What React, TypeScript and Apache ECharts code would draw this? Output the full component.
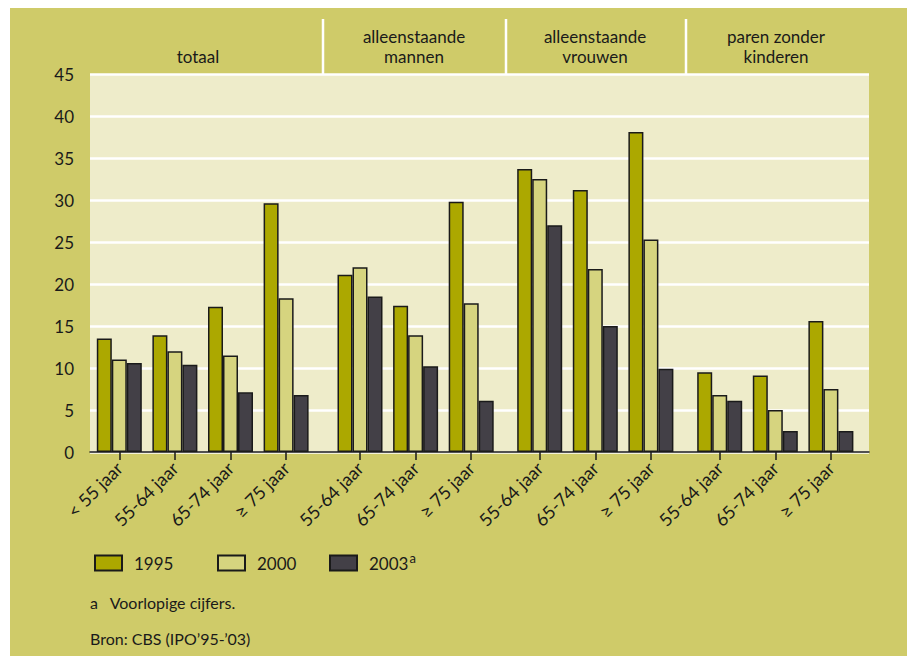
import React, { useEffect, useRef } from "react";
import * as echarts from "echarts";

// ---- data ----
const groupTitles = ["totaal", "alleenstaande\nmannen", "alleenstaande\nvrouwen", "paren zonder\nkinderen"];
const categoriesTotaal = ["< 55 jaar", "55-64 jaar", "65-74 jaar", "≥ 75 jaar"];
const categoriesOther = ["55-64 jaar", "65-74 jaar", "≥ 75 jaar"];
const years = ["1995", "2000", "2003"];

const totaal1995 = [13.5, 13.9, 17.3, 29.6];
const totaal2000 = [11.0, 12.0, 11.5, 18.3];
const totaal2003 = [10.6, 10.4, 7.1, 6.8];
const mannen1995 = [21.1, 17.4, 29.8];
const mannen2000 = [22.0, 13.9, 17.7];
const mannen2003 = [18.5, 10.2, 6.1];
const vrouwen1995 = [33.7, 31.2, 38.1];
const vrouwen2000 = [32.5, 21.8, 25.3];
const vrouwen2003 = [27.0, 15.0, 9.9];
const paren1995 = [9.5, 9.1, 15.6];
const paren2000 = [6.8, 5.0, 7.5];
const paren2003 = [6.1, 2.5, 2.5];

const yMin = 0;
const yMax = 45;
const yInterval = 5;

const footnote = "a   Voorlopige cijfers.";
const source = "Bron: CBS (IPO\u201995-\u201903)";

// ---- styles / layout ----
const FONT = "Lato";
const TEXT = "#1a1a1a";
const PANEL = "#cfcb69";
const PLOT_BG = "#eeecca";
const COLORS = ["#aca800", "#d6d47f", "#434047"];
const W = 907;
const H = 656;
const PLOT_TOP = 74;
const PLOT_BOTTOM = 452;
const PLOT_LEFT = 90;
const PLOT_RIGHT = 869;
const subGrids = [
  { left: 91.5, width: 222.4 },
  { left: 332.2, width: 166.8 },
  { left: 511.9, width: 166.8 },
  { left: 691.9, width: 166.8 },
];
const headerCenters = [198, 414, 595, 776];
const separators = [323, 506, 686];

export default function App() {
  const ref = useRef<HTMLDivElement>(null);

  useEffect(() => {
    if (!ref.current) return;
    const chart = echarts.init(ref.current, null, { renderer: "svg" });

    const groupCats = [categoriesTotaal, categoriesOther, categoriesOther, categoriesOther];
    const groupData = [
      [totaal1995, totaal2000, totaal2003],
      [mannen1995, mannen2000, mannen2003],
      [vrouwen1995, vrouwen2000, vrouwen2003],
      [paren1995, paren2000, paren2003],
    ];

    const grids: any[] = [
      {
        left: PLOT_LEFT,
        top: PLOT_TOP,
        width: PLOT_RIGHT - PLOT_LEFT,
        height: PLOT_BOTTOM - PLOT_TOP,
        show: true,
        backgroundColor: PLOT_BG,
        borderWidth: 0,
      },
    ];
    const xAxes: any[] = [
      {
        type: "category",
        gridIndex: 0,
        data: [""],
        axisLine: { show: true, lineStyle: { color: TEXT, width: 1.5 } },
        axisTick: { show: false },
        axisLabel: { show: false },
        splitLine: { show: false },
      },
    ];
    const yAxes: any[] = [
      {
        type: "value",
        gridIndex: 0,
        min: yMin,
        max: yMax,
        interval: yInterval,
        axisLine: { show: false },
        axisTick: { show: false },
        axisLabel: { color: TEXT, fontFamily: FONT, fontSize: 17, margin: 16 },
        splitLine: { show: true, lineStyle: { color: "#ffffff", width: 2.5 } },
      },
    ];
    const series: any[] = [];

    subGrids.forEach((g, i) => {
      const idx = i + 1;
      grids.push({ left: g.left, width: g.width, top: PLOT_TOP, height: PLOT_BOTTOM - PLOT_TOP });
      xAxes.push({
        type: "category",
        gridIndex: idx,
        data: groupCats[i],
        axisLine: { show: false },
        axisTick: { show: true, alignWithLabel: true, length: 8, lineStyle: { color: TEXT, width: 1.5 } },
        axisLabel: {
          rotate: 45,
          interval: 0,
          color: TEXT,
          fontFamily: FONT,
          fontSize: 18,
          margin: 13,
        },
        splitLine: { show: false },
      });
      yAxes.push({ type: "value", gridIndex: idx, min: yMin, max: yMax, interval: yInterval, show: false });
      years.forEach((y, k) => {
        series.push({
          type: "bar",
          name: y,
          xAxisIndex: idx,
          yAxisIndex: idx,
          data: groupData[i][k],
          barWidth: 15,
          barGap: "0%",
          itemStyle: { color: COLORS[k], borderColor: TEXT, borderWidth: 1.5 },
          emphasis: { disabled: true },
        });
      });
    });

    const legendPos = [89, 212, 324];
    const legends = years.map((y, k) => ({
      left: legendPos[k],
      top: 546,
      data: [y],
      icon: "rect",
      itemWidth: 27,
      itemHeight: 15,
      selectedMode: false,
      formatter: (name: string) => (name === "2003" ? "{n|2003}{sup|a}" : "{n|" + name + "}"),
      textStyle: {
        color: TEXT,
        fontFamily: FONT,
        fontSize: 17,
        lineHeight: 24,
        padding: [0, 0, 0, 7],
        rich: {
          n: { fontFamily: FONT, fontSize: 17, color: TEXT, lineHeight: 24 },
          sup: { fontFamily: FONT, fontSize: 13, color: TEXT, lineHeight: 13, verticalAlign: "top", padding: [0, 0, 0, 1] },
        },
      },
    }));

    const graphic: any[] = [
      { type: "rect", z: -100, shape: { x: 10, y: 8, width: W - 10, height: H - 8 }, style: { fill: PANEL } },
    ];
    separators.forEach((x) => {
      graphic.push({
        type: "line",
        z: 5,
        shape: { x1: x, y1: 19, x2: x, y2: PLOT_TOP },
        style: { stroke: "#ffffff", lineWidth: 2.5 },
      });
    });
    groupTitles.forEach((t, i) => {
      graphic.push({
        type: "text",
        z: 5,
        x: headerCenters[i],
        y: 66,
        style: {
          text: t,
          fill: TEXT,
          font: `17px ${FONT}`,
          textAlign: "center",
          textVerticalAlign: "bottom",
          lineHeight: 20,
        },
      });
    });
    graphic.push({
      type: "text",
      z: 5,
      x: 90,
      y: 602,
      style: { text: footnote, fill: TEXT, font: `16px ${FONT}`, textVerticalAlign: "middle" },
    });
    graphic.push({
      type: "text",
      z: 5,
      x: 90,
      y: 638,
      style: { text: source, fill: TEXT, font: `16px ${FONT}`, textVerticalAlign: "middle" },
    });

    chart.setOption({
      animation: false,
      backgroundColor: "#ffffff",
      textStyle: { fontFamily: FONT },
      grid: grids,
      xAxis: xAxes,
      yAxis: yAxes,
      legend: legends,
      series,
      graphic,
    });

    return () => chart.dispose();
  }, []);

  return (
    <div
      ref={ref}
      style={{ position: "fixed", left: 0, top: 0, width: W, height: H }}
    />
  );
}
